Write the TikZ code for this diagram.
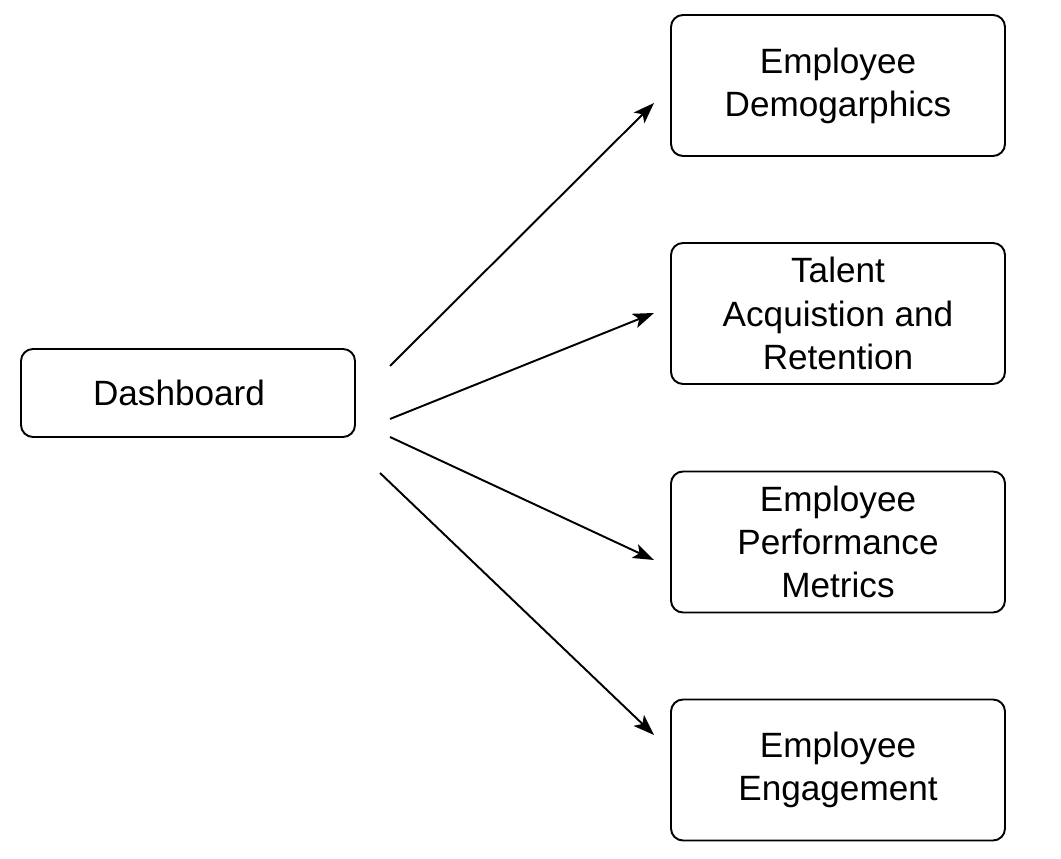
\documentclass[tikz,border=0pt]{standalone}
\usepackage{fontspec}
\setmainfont{Liberation Sans}
\usepackage{tikz}
\usetikzlibrary{positioning,arrows.meta}

\tikzset{
  box/.style = {draw, line width=1.1pt, rounded corners=0.24cm, minimum width=6.68cm,
    minimum height=2.82cm, align=center, font=\fontsize{20}{24.5}\selectfont},
  link/.style = {line width=1.1pt, -{Stealth[length=0.42cm,width=0.3cm,inset=0.1cm]}}
}

\begin{document}
\begin{tikzpicture}
\useasboundingbox (0,0) rectangle (21.22,17.18);

\node[box, minimum height=1.76cm] (dash) at (3.76,9.32) {Dashboard\hspace*{0.36cm}};
\node[box] (demo) at (16.76,15.47) {Employee\\Demogarphics};
\node[box] (talent) at (16.76,10.91) {Talent\\Acquistion and\\Retention};
\node[box] (perf) at (16.76,6.34) {Employee\\Performance\\Metrics};
\node[box] (engage) at (16.76,1.78) {Employee\\Engagement};

% free ends of the arrows
\coordinate (s1) at (7.8,9.86);
\coordinate (s2) at (7.8,8.8);
\coordinate (s3) at (7.8,8.44);
\coordinate (s4) at (7.6,7.72);
\coordinate (e1) at (13.08,15.12);
\coordinate (e2) at (13.08,10.92);
\coordinate (e3) at (13.08,5.98);
\coordinate (e4) at (13.08,2.48);

\foreach \i in {1,2,3,4} {\draw[link] (s\i) -- (e\i);}
\end{tikzpicture}
\end{document}
